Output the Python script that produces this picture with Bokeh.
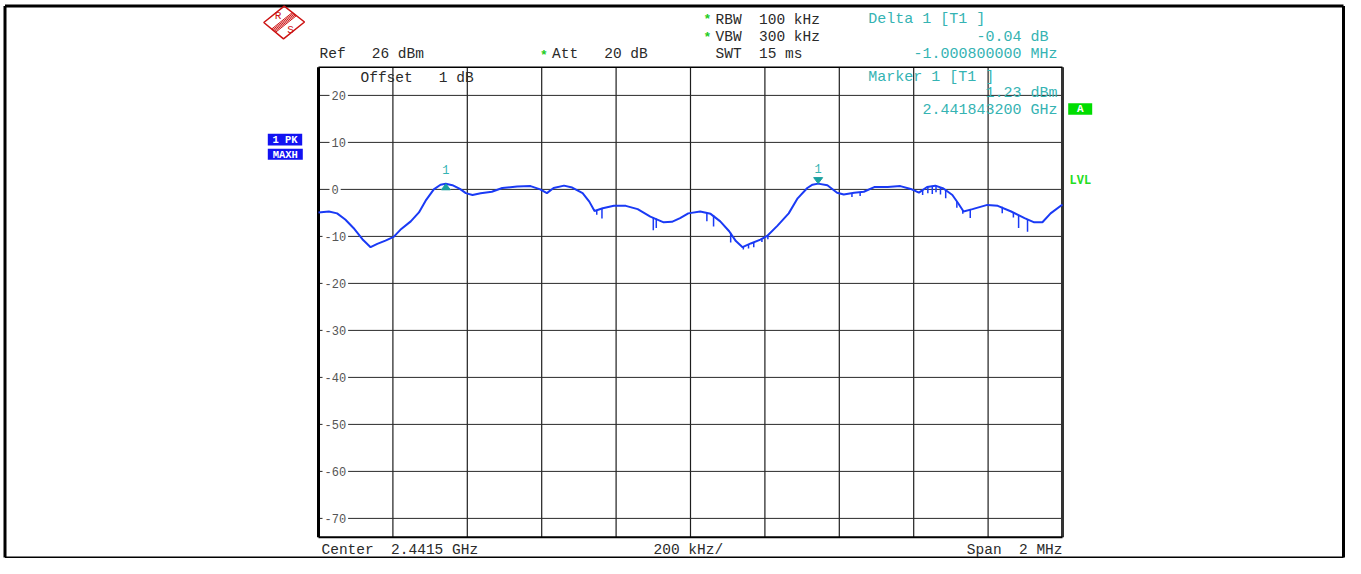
import re
from bokeh.plotting import figure
from bokeh.models import Range1d
from bokeh.core.properties import value
from bokeh.embed import file_html
from bokeh.resources import INLINE

# ---------------- data ----------------
center_mhz = 2441.5
span_mhz = 2.0
ref_level_db = 26.0
bottom_level_db = -74.0
start_mhz = center_mhz - span_mhz / 2
stop_mhz = center_mhz + span_mhz / 2

ytick_vals = [20, 10, 0, -10, -20, -30, -40, -50, -60, -70]
ytick_labels = ["20", "10", "0", "-10", "-20", "-30", "-40", "-50", "-60", "-70"]
xgrid_mhz = [2440.7, 2440.9, 2441.1, 2441.3, 2441.5, 2441.7, 2441.9, 2442.1, 2442.3]

trace_mhz = [
    2440.500, 2440.528, 2440.550, 2440.572, 2440.594, 2440.618, 2440.640, 2440.658,
    2440.680, 2440.702, 2440.720, 2440.748, 2440.770, 2440.788, 2440.810, 2440.828,
    2440.842, 2440.860, 2440.880, 2440.896, 2440.914, 2440.936, 2440.966, 2440.994,
    2441.034, 2441.070, 2441.096, 2441.114, 2441.132, 2441.160, 2441.182, 2441.210,
    2441.228, 2441.242, 2441.264, 2441.294, 2441.326, 2441.358, 2441.392, 2441.428,
    2441.450, 2441.472, 2441.494, 2441.526, 2441.554, 2441.580, 2441.604, 2441.622,
    2441.640, 2441.662, 2441.688, 2441.706, 2441.734, 2441.764, 2441.788, 2441.814,
    2441.828, 2441.843, 2441.868, 2441.894, 2441.912, 2441.940, 2441.966, 2441.994,
    2442.030, 2442.064, 2442.092, 2442.114, 2442.136, 2442.158, 2442.180, 2442.204,
    2442.220, 2442.234, 2442.258, 2442.298, 2442.326, 2442.362, 2442.398, 2442.424,
    2442.446, 2442.468, 2442.500,
]
trace_db = [
    -4.9, -4.7, -5.1, -6.4, -8.2, -10.6, -12.3, -11.6,
    -10.9, -10.1, -8.6, -6.8, -4.9, -2.4, 0.0, 1.0,
    1.19, 0.9, 0.1, -0.8, -1.2, -0.8, -0.5, 0.3,
    0.6, 0.7, 0.0, -0.8, 0.3, 0.8, 0.4, -0.8,
    -2.6, -4.6, -4.0, -3.5, -3.5, -4.2, -5.8, -7.0,
    -6.9, -6.1, -5.1, -4.7, -5.2, -6.8, -8.9, -11.0,
    -12.3, -11.5, -10.7, -9.9, -7.7, -5.1, -1.9, 0.3,
    1.0, 1.23, 0.9, -0.7, -1.1, -0.7, -0.5, 0.5,
    0.5, 0.7, 0.1, -0.7, 0.5, 0.8, 0.2, -1.2,
    -3.0, -4.7, -4.2, -3.3, -3.5, -4.7, -6.1, -7.0,
    -7.0, -5.1, -3.2,
]

# downward noise spikes of the max-hold trace
spike_mhz = [2441.248, 2441.262, 2441.400, 2441.408, 2441.544, 2441.562, 2441.608, 2441.642,
             2441.656, 2441.670, 2441.692, 2441.708, 2441.934, 2441.956, 2442.124, 2442.138,
             2442.150, 2442.160, 2442.172, 2442.186, 2442.216, 2442.232, 2442.252, 2442.338,
             2442.368, 2442.382, 2442.406]
spike_top_db = [-4.4, -4.0, -6.0, -6.2, -5.0, -5.5, -9.2, -12.2,
                -11.8, -11.2, -10.6, -9.8, -0.8, -0.6, -0.2, 0.5,
                0.7, 0.8, 0.5, 0.1, -2.6, -4.5, -4.3, -3.7,
                -4.9, -5.5, -6.4]
spike_bottom_db = [-5.4, -6.2, -8.7, -8.2, -6.8, -7.9, -11.3, -12.8,
                   -12.6, -12.3, -11.2, -10.6, -1.6, -1.4, -1.2, -0.8,
                   -1.0, -0.6, -1.1, -1.9, -3.9, -5.2, -6.1, -5.1,
                   -6.0, -8.2, -9.0]

marker1_mhz = 2441.8432
marker1_db = 1.23
delta1_mhz = marker1_mhz - 1.0008
delta1_db = marker1_db - 0.04

# ---------------- layout ----------------
W, H = 1345, 558
PAGE = 0
FX0, FX1 = 318.0, 1062.0      # plot area in picture pixels
FY0, FY1 = 66.7, 536.7
MHZ_PER_PX = span_mhz / (FX1 - FX0)
DB_PER_PX = (ref_level_db - bottom_level_db) / (FY1 - FY0)


def PX(xp):
    return start_mhz + (xp - FX0) * MHZ_PER_PX


def PY(yp):
    return ref_level_db - (yp - FY0) * DB_PER_PX


def keep_spaces(s):
    # SVG collapses runs of spaces; keep the instrument's spacing
    return re.sub(r" {2,}", lambda m: " " + "\u00a0" * (len(m.group(0)) - 1), s)


p = figure(width=W, height=H, output_backend="svg", toolbar_location=None,
           x_range=Range1d(PX(PAGE), PX(PAGE + W)),
           y_range=Range1d(PY(PAGE + H), PY(PAGE)),
           x_axis_location=None, y_axis_location=None,
           min_border=0, min_border_left=0, min_border_right=0,
           min_border_top=0, min_border_bottom=0)
p.grid.visible = False
p.outline_line_color = None
p.background_fill_color = "white"
p.border_fill_color = "white"

MONO = value("Liberation Mono")
BLACK_TXT = "#2a2a2a"
TEAL = "#35b3b3"

# outer frame
OL, OT, OR, OB = 4.5, 5.5, W - 2, H - 1
p.segment(x0=[PX(OL), PX(OL), PX(OR), PX(OL)], y0=[PY(OT), PY(OT), PY(OT), PY(OB)],
          x1=[PX(OR), PX(OL), PX(OR), PX(OR)], y1=[PY(OT), PY(OB), PY(OB), PY(OB)],
          line_color="black", line_width=[3, 3, 3, 2])

# grid
p.segment(x0=xgrid_mhz, y0=[bottom_level_db] * len(xgrid_mhz),
          x1=xgrid_mhz, y1=[ref_level_db] * len(xgrid_mhz),
          line_color="#1e1e1e", line_width=1.2)
p.segment(x0=[start_mhz] * len(ytick_vals), y0=ytick_vals,
          x1=[stop_mhz] * len(ytick_vals), y1=ytick_vals,
          line_color="#2a2a2a", line_width=1)

# y tick labels inside the grid
tick_xoff = [-7 if v < 0 else 0 for v in ytick_vals]
p.text(x=[PX(329)] * len(ytick_vals), y=ytick_vals, text=ytick_labels,
       x_offset=tick_xoff, text_font=MONO, text_font_size="12px",
       text_color="#555555", text_align="left", text_baseline="middle",
       background_fill_color="white", padding=2)

# plot frame
p.segment(x0=[start_mhz], y0=[bottom_level_db], x1=[start_mhz], y1=[ref_level_db],
          line_color="black", line_width=3)
p.segment(x0=[stop_mhz], y0=[bottom_level_db], x1=[stop_mhz], y1=[ref_level_db],
          line_color="#333333", line_width=3)
p.segment(x0=[start_mhz], y0=[ref_level_db], x1=[stop_mhz], y1=[ref_level_db],
          line_color="black", line_width=1.5)
p.segment(x0=[start_mhz], y0=[bottom_level_db], x1=[stop_mhz], y1=[bottom_level_db],
          line_color="black", line_width=2)

# trace
TRACE = "#1a3af5"
p.line(trace_mhz, trace_db, line_color=TRACE, line_width=2)
p.segment(x0=spike_mhz, y0=spike_top_db, x1=spike_mhz, y1=spike_bottom_db,
          line_color=TRACE, line_width=1.5)

# markers (tip of triangle on the trace)
tw = 4.5 * MHZ_PER_PX
th = 6.0 * DB_PER_PX
p.patches(xs=[[delta1_mhz - tw, delta1_mhz, delta1_mhz + tw],
              [marker1_mhz - tw, marker1_mhz, marker1_mhz + tw]],
          ys=[[delta1_db - th, delta1_db, delta1_db - th],
              [marker1_db + th, marker1_db, marker1_db + th]],
          fill_color="#1aa0a0", line_color="#1aa0a0")
p.text(x=[delta1_mhz, marker1_mhz], y=[delta1_db + 14 * DB_PER_PX, marker1_db + 15 * DB_PER_PX],
       text=["1", "1"], text_font=MONO, text_font_size="12px", text_color=TEAL,
       text_align="center", text_baseline="middle")


# ---------- header / footer texts (positions in picture pixels) ----------
def txt(items, color, size, align, bold=False):
    p.text(x=[PX(a) for a, b, c in items], y=[PY(b) for a, b, c in items],
           text=[keep_spaces(c) for a, b, c in items], text_font=MONO, text_font_size=size,
           text_color=color, text_align=align, text_baseline="middle",
           text_font_style="bold" if bold else "normal")


txt([(319, 53.5, "Ref   26 dBm"), (551.5, 53.5, "Att   20 dB"),
     (715, 19, "RBW  100 kHz"), (715, 36.5, "VBW  300 kHz"), (715, 53.5, "SWT  15 ms"),
     (360, 77, "Offset   1 dB"),
     (321, 549.5, "Center  2.4415 GHz"), (653, 549.5, "200 kHz/")],
    BLACK_TXT, "14.5px", "left")
txt([(1062, 549.5, "Span  2 MHz")], BLACK_TXT, "14.5px", "right")

txt([(867.7, 19, "Delta 1 [T1 ]"), (867.7, 76.5, "Marker 1 [T1 ]")], TEAL, "15px", "left")
txt([(1048, 36.5, "-0.04 dB"), (1057, 53.5, "-1.000800000 MHz"),
     (1057, 93, "1.23 dBm"), (1057, 110, "2.441843200 GHz")], TEAL, "15px", "right")

# green asterisks
txt([(707, 19, "*"), (707, 36.5, "*"), (543.5, 55, "*")], "#22cc22", "13px", "center", bold=True)

# trace info boxes
p.quad(left=[PX(267.3), PX(267.3)], right=[PX(301.7), PX(302.3)],
       top=[PY(133.3), PY(148.3)], bottom=[PY(145), PY(159.3)],
       fill_color="#1212f2", line_color=None)
txt([(284.5, 139.5, "1 PK"), (284.8, 154, "MAXH")], "white", "10.5px", "center", bold=True)

# green "A" box and LVL
p.quad(left=[PX(1067.7)], right=[PX(1091.7)], top=[PY(102.7)], bottom=[PY(114.3)],
       fill_color="#00dd00", line_color=None)
txt([(1079.7, 108.8, "A")], "white", "11px", "center", bold=True)
txt([(1069, 180.5, "LVL")], "#22dd22", "12px", "left", bold=True)

# R&S logo
L_, T_, R_, B_ = (263.3, 22.0), (283.7, 5.7), (304.0, 21.5), (283.0, 38.3)
p.patch(x=[PX(L_[0]), PX(T_[0]), PX(R_[0]), PX(B_[0])],
        y=[PY(L_[1]), PY(T_[1]), PY(R_[1]), PY(B_[1])],
        fill_color=None, line_color="#cc1111", line_width=1.5)
hx, hy = [], []
for s in [0.40, 0.45, 0.50, 0.55, 0.60]:
    a = (T_[0] + s * (R_[0] - T_[0]), T_[1] + s * (R_[1] - T_[1]))
    b = (L_[0] + s * (B_[0] - L_[0]), L_[1] + s * (B_[1] - L_[1]))
    hx.append([PX(a[0]), PX(b[0])])
    hy.append([PY(a[1]), PY(b[1])])
p.multi_line(xs=hx, ys=hy, line_color="#cc1111", line_width=1)
txt([(277.5, 15.5, "R"), (290, 29, "S")], "#cc1111", "11px", "center")

open("out.html", "w").write(file_html(p, INLINE))
